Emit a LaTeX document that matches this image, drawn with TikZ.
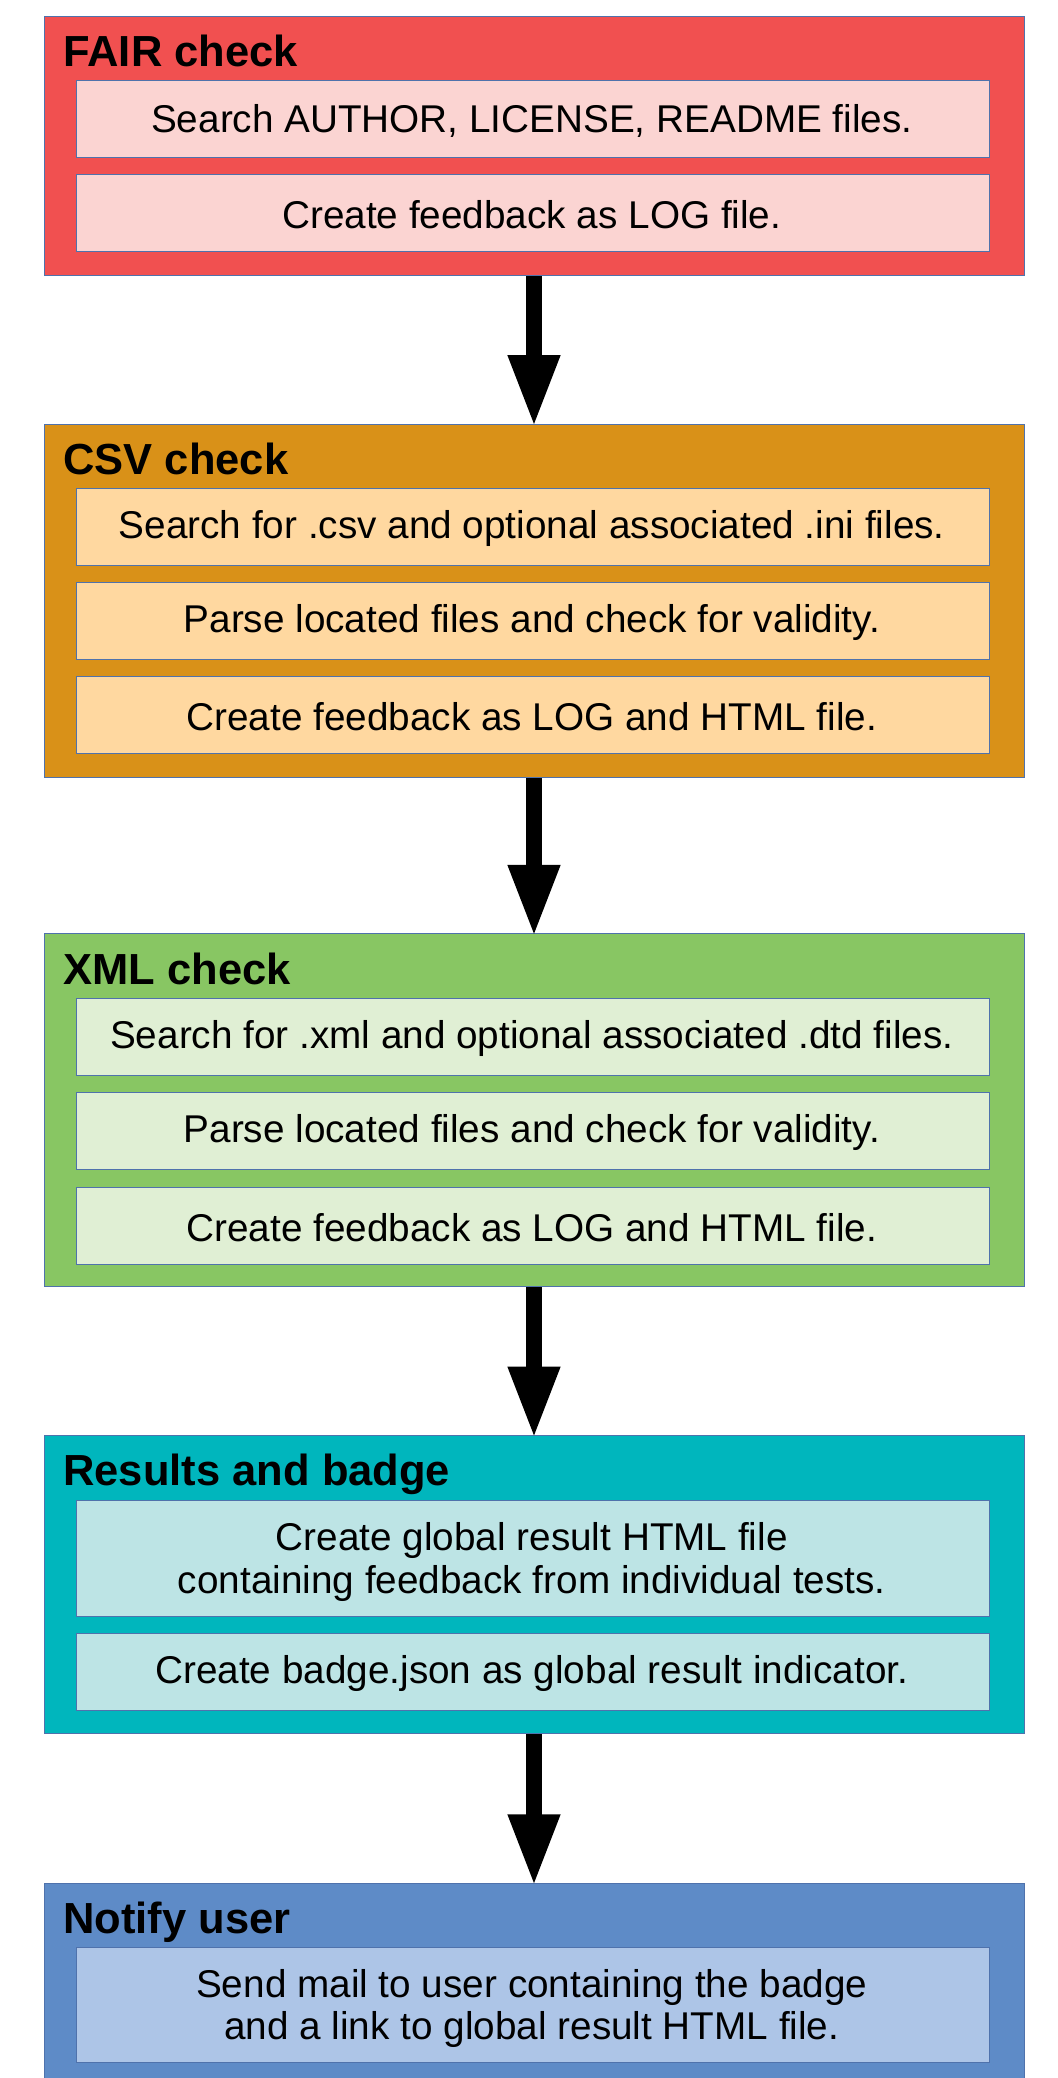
\documentclass[tikz,border=0pt]{standalone}
\usepackage{fontspec}
\setmainfont{Liberation Sans}
\usetikzlibrary{arrows.meta}
\definecolor{bordc}{HTML}{4F72AC}
\definecolor{fairOut}{HTML}{F15050}
\definecolor{fairIn}{HTML}{FBD4D2}
\definecolor{csvOut}{HTML}{D99118}
\definecolor{csvIn}{HTML}{FFD8A0}
\definecolor{xmlOut}{HTML}{88C663}
\definecolor{xmlIn}{HTML}{E0EFD4}
\definecolor{resOut}{HTML}{00B6BD}
\definecolor{resIn}{HTML}{BDE4E5}
\definecolor{notOut}{HTML}{5E8BC7}
\definecolor{notIn}{HTML}{ADC5E7}
\tikzset{
  outerbox/.style={draw=bordc, line width=0.5pt, rectangle, inner sep=0pt, anchor=north west, minimum width=490pt},
  innerbox/.style={draw=bordc, line width=0.5pt, rectangle, inner sep=0pt, anchor=north west, minimum width=456.5pt},
  onetext/.style={font=\fontsize{19.35}{21.2}\selectfont, yshift=-0.8pt, xshift=-0.6pt},
  twotext/.style={font=\fontsize{19.35}{21.2}\selectfont, align=center, yshift=-1.8pt, xshift=-0.6pt},
  titletext/.style={anchor=base west, inner sep=0pt, font=\fontsize{21.75}{24}\selectfont\bfseries},
  bigarrow/.style={line width=8pt, -{Triangle[width=24pt,length=36pt]}, black, shorten >=-1.8pt},
}
\begin{document}
\begin{tikzpicture}[x=0.5pt,y=-0.5pt]
\useasboundingbox (0,0) rectangle (1058,2078);
% FAIR
\node[outerbox, fill=fairOut, minimum height=129.5pt] (fair) at (43.5,16) {};
\node[titletext] (fairT) at (63,66.7) {FAIR check};
\node[innerbox, fill=fairIn, minimum height=38.5pt] (fair1) at (76,80) {};
\node[onetext] (fair1t) at (fair1.center) {Search AUTHOR, LICENSE, README files.};
\node[innerbox, fill=fairIn, minimum height=38.2pt] (fair2) at (76,174.3) {};
\node[onetext] (fair2t) at (fair2.center) {Create feedback as LOG file.};
% CSV
\node[outerbox, fill=csvOut, minimum height=176.7pt] (csv) at (43.5,423.5) {};
\node[titletext] (csvT) at (63,474.2) {CSV check};
\node[innerbox, fill=csvIn, minimum height=38.5pt] (csv1) at (76,488) {};
\node[onetext] (csv1t) at (csv1.center) {Search for .csv and optional associated .ini files.};
\node[innerbox, fill=csvIn, minimum height=38.5pt] (csv2) at (76,582) {};
\node[onetext] (csv2t) at (csv2.center) {Parse located files and check for validity.};
\node[innerbox, fill=csvIn, minimum height=38.5pt] (csv3) at (76,676) {};
\node[onetext] (csv3t) at (csv3.center) {Create feedback as LOG and HTML file.};
% XML
\node[outerbox, fill=xmlOut, minimum height=176.4pt] (xml) at (43.5,933.3) {};
\node[titletext] (xmlT) at (63,984) {XML check};
\node[innerbox, fill=xmlIn, minimum height=38.5pt] (xml1) at (76,998) {};
\node[onetext] (xml1t) at (xml1.center) {Search for .xml and optional associated .dtd files.};
\node[innerbox, fill=xmlIn, minimum height=38.5pt] (xml2) at (76,1092) {};
\node[onetext] (xml2t) at (xml2.center) {Parse located files and check for validity.};
\node[innerbox, fill=xmlIn, minimum height=38.3pt] (xml3) at (76,1187) {};
\node[onetext] (xml3t) at (xml3.center) {Create feedback as LOG and HTML file.};
% Results
\node[outerbox, fill=resOut, minimum height=149.2pt] (res) at (43.5,1435) {};
\node[titletext] (resT) at (63,1485.7) {Results and badge};
\node[innerbox, fill=resIn, minimum height=58pt] (res1) at (76,1500) {};
\node[twotext] (res1t) at (res1.center) {Create global result HTML file\\containing feedback from individual tests.};
\node[innerbox, fill=resIn, minimum height=38.3pt] (res2) at (76,1633.3) {};
\node[onetext] (res2t) at (res2.center) {Create badge.json as global result indicator.};
% Notify
\node[outerbox, fill=notOut, minimum height=110pt] (notif) at (43.5,1882.7) {};
\node[titletext] (notT) at (63,1933.4) {Notify user};
\node[innerbox, fill=notIn, minimum height=57.8pt] (not1) at (76,1946.7) {};
\node[twotext] (not1t) at (not1.center) {Send mail to user containing the badge\\and a link to global result HTML file.};
% arrows
\draw[bigarrow] (fair.south) -- (csv.north);
\draw[bigarrow] (csv.south) -- (xml.north);
\draw[bigarrow] (xml.south) -- (res.north);
\draw[bigarrow] (res.south) -- (notif.north);
\end{tikzpicture}
\end{document}
